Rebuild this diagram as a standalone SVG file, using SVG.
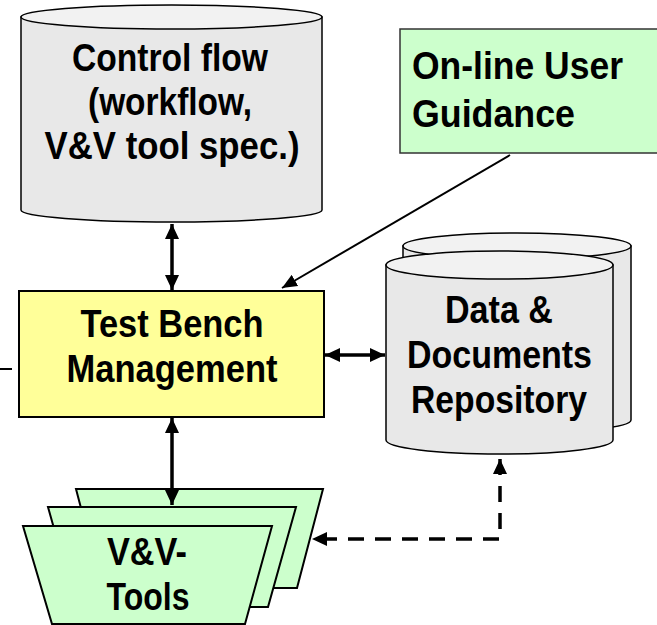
<svg xmlns="http://www.w3.org/2000/svg" width="657" height="625" viewBox="0 0 657 625">
<style>
.t{font-family:"Liberation Sans",Arial,sans-serif;font-weight:bold;font-size:38px;fill:#000}
.c{text-anchor:middle}
.cyl{fill:#E8E8E8;stroke:#000;stroke-width:1.5}
.cyltop{fill:#F2F2F2;stroke:#000;stroke-width:1.5}
.grn{fill:#CCFFCC;stroke:#000;stroke-width:2}
.ln{stroke:#000;stroke-width:3.5;fill:none}
</style>
<defs>
<marker id="ah" markerUnits="userSpaceOnUse" markerWidth="16" markerHeight="16" viewBox="0 0 16 16" refX="15" refY="8" orient="auto-start-reverse">
<path d="M0,1 L15,8 L0,15 Z" fill="#000"/>
</marker>
<marker id="ahs" markerUnits="userSpaceOnUse" markerWidth="16" markerHeight="14" viewBox="0 0 16 14" refX="15" refY="7" orient="auto">
<path d="M0,0.5 L15,7 L0,13.5 Z" fill="#000"/>
</marker>
</defs>

<g id="control-flow">
<path class="cyl" d="M21,17 L21,210 A150.5,12 0 0 0 322,210 L322,17 Z"/>
<ellipse class="cyltop" cx="171.5" cy="17" rx="150.5" ry="12"/>
<text class="t c" x="170" y="71" textLength="196" lengthAdjust="spacingAndGlyphs">Control flow</text>
<text class="t c" x="170" y="115" textLength="164" lengthAdjust="spacingAndGlyphs">(workflow,</text>
<text class="t c" x="172" y="159" textLength="255" lengthAdjust="spacingAndGlyphs">V&amp;V tool spec.)</text>
</g>

<g id="user-guidance">
<rect x="400" y="29" width="262" height="124" fill="#CCFFCC" stroke="#333" stroke-width="1.5"/>
<text class="t" x="412" y="79" textLength="211" lengthAdjust="spacingAndGlyphs">On-line User</text>
<text class="t" x="412" y="127" textLength="163" lengthAdjust="spacingAndGlyphs">Guidance</text>
</g>

<g id="test-bench">
<rect x="19" y="291" width="305" height="126" fill="#FFFF99" stroke="#000" stroke-width="2"/>
<text class="t c" x="172" y="337" textLength="183" lengthAdjust="spacingAndGlyphs">Test Bench</text>
<text class="t c" x="172" y="382" textLength="211" lengthAdjust="spacingAndGlyphs">Management</text>
</g>

<g id="repository">
<path class="cyl" d="M403,246 L403,420 A114,13 0 0 0 631,420 L631,246 Z"/>
<ellipse class="cyltop" cx="517" cy="246" rx="114" ry="13"/>
<path class="cyl" d="M386,265 L386,440 A113.5,14 0 0 0 613,440 L613,265 Z"/>
<ellipse class="cyltop" cx="499.5" cy="265" rx="113.5" ry="14"/>
<text class="t c" x="499" y="323" textLength="108" lengthAdjust="spacingAndGlyphs">Data &amp;</text>
<text class="t c" x="499.5" y="368" textLength="185" lengthAdjust="spacingAndGlyphs">Documents</text>
<text class="t c" x="499" y="413" textLength="176" lengthAdjust="spacingAndGlyphs">Repository</text>
</g>

<g id="vv-tools">
<path class="grn" d="M76,489 L323,489 L297,588 L102,588 Z"/>
<path class="grn" d="M48,507 L296,507 L268,607 L76,607 Z"/>
<path class="grn" d="M23,526 L272,526 L245,624 L52,624 Z"/>
<text class="t c" x="147" y="565" textLength="80" lengthAdjust="spacingAndGlyphs">V&amp;V-</text>
<text class="t c" x="148" y="610" textLength="83" lengthAdjust="spacingAndGlyphs">Tools</text>
</g>

<g id="connectors">
<line class="ln" x1="172" y1="224" x2="172" y2="290" marker-start="url(#ah)" marker-end="url(#ah)"/>
<line class="ln" x1="172" y1="418" x2="172" y2="505" marker-start="url(#ah)" marker-end="url(#ah)"/>
<line class="ln" x1="325" y1="355" x2="385" y2="355" marker-start="url(#ah)" marker-end="url(#ah)"/>
<line x1="510" y1="155" x2="282" y2="288" stroke="#000" stroke-width="2" marker-end="url(#ahs)"/>
<path class="ln" d="M500,459 L500,539 L312,539" stroke-dasharray="16,11" marker-start="url(#ah)" marker-end="url(#ah)"/>
<line x1="0" y1="369" x2="12" y2="369" stroke="#000" stroke-width="2"/>
</g>
</svg>
